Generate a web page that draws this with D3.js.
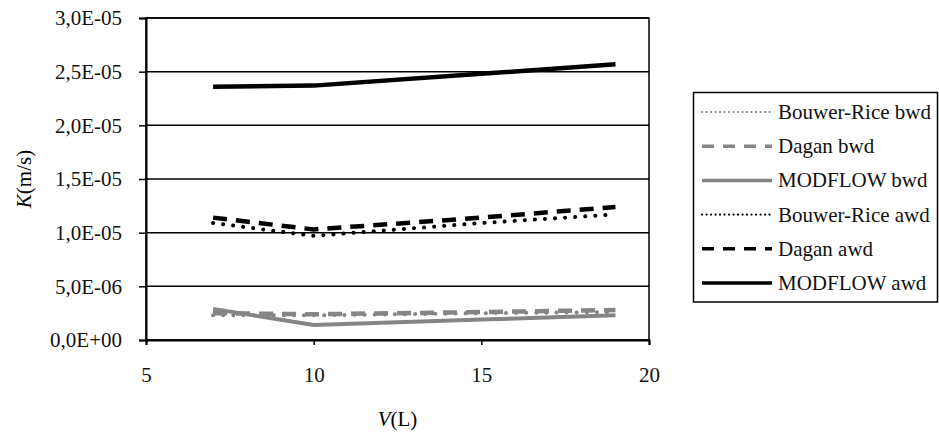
<!DOCTYPE html>
<html>
<head>
<meta charset="utf-8">
<script src="https://cdn.jsdelivr.net/npm/d3@7"></script>
<style>
  body { margin: 0; background: #fff; }
</style>
</head>
<body>
<div id="chart"></div>
<script>
// Data
const volumes = [7, 10, 15, 19];
const seriesNames = ["Bouwer-Rice bwd", "Dagan bwd", "MODFLOW bwd", "Bouwer-Rice awd", "Dagan awd", "MODFLOW awd"];
const brBwd = [2.3e-6, 2.3e-6, 2.5e-6, 2.6e-6];
const daganBwd = [2.5e-6, 2.4e-6, 2.6e-6, 2.8e-6];
const modflowBwd = [2.9e-6, 1.4e-6, 1.9e-6, 2.3e-6];
const brAwd = [1.09e-5, 0.97e-5, 1.09e-5, 1.17e-5];
const daganAwd = [1.14e-5, 1.03e-5, 1.14e-5, 1.24e-5];
const modflowAwd = [2.36e-5, 2.37e-5, 2.48e-5, 2.57e-5];
const yTicks = [0, 5e-6, 1e-5, 1.5e-5, 2e-5, 2.5e-5, 3e-5];
const yTickLabels = ["0,0E+00", "5,0E-06", "1,0E-05", "1,5E-05", "2,0E-05", "2,5E-05", "3,0E-05"];
const xTicks = [5, 10, 15, 20];

const FONT = "'Liberation Serif', 'Times New Roman', serif";
const grey = "#858585";
const styles = [
  { color: grey, width: 4, dash: "0.1,10", cap: "round" },
  { color: grey, width: 4.5, dash: "14,9", cap: "butt" },
  { color: grey, width: 4, dash: null, cap: "butt" },
  { color: "#000", width: 4, dash: "0.1,10", cap: "round" },
  { color: "#000", width: 4.5, dash: "14,9", cap: "butt" },
  { color: "#000", width: 4.5, dash: null, cap: "butt" }
];
const values = [brBwd, daganBwd, modflowBwd, brAwd, daganAwd, modflowAwd];

const width = 939, height = 434;
const margin = { top: 18, right: 290, bottom: 94, left: 146 };

const svg = d3.select("#chart").append("svg")
  .attr("width", width).attr("height", height);

const x = d3.scaleLinear().domain([5, 20]).range([margin.left, width - margin.right]);
const y = d3.scaleLinear().domain([0, 3e-5]).range([height - margin.bottom, margin.top]);

// Grid
svg.append("g").selectAll("line")
  .data(yTicks)
  .join("line")
  .attr("x1", x(5)).attr("x2", x(20))
  .attr("y1", d => y(d)).attr("y2", d => y(d))
  .attr("stroke", "#000").attr("stroke-width", 1.5);

// Plot border
svg.append("rect")
  .attr("x", x(5)).attr("y", y(3e-5))
  .attr("width", x(20) - x(5)).attr("height", y(0) - y(3e-5))
  .attr("fill", "none").attr("stroke", "#000").attr("stroke-width", 1.5);

// Axes
const yAxis = svg.append("g")
  .attr("transform", `translate(${x(5)},0)`)
  .call(d3.axisLeft(y).tickValues(yTicks).tickSize(7).tickPadding(17)
    .tickFormat((d, i) => yTickLabels[i]));
const xAxis = svg.append("g")
  .attr("transform", `translate(0,${y(0)})`)
  .call(d3.axisBottom(x).tickValues(xTicks).tickSize(5).tickPadding(22));
[yAxis, xAxis].forEach(a => {
  a.select(".domain").attr("stroke-width", 2);
  a.selectAll(".tick line").attr("stroke-width", 1.5);
  a.selectAll(".tick text").attr("fill", "#111");
});

// Lines
const line = d3.line().x((d, i) => x(volumes[i])).y(d => y(d));
svg.append("g").selectAll("path")
  .data(values)
  .join("path")
  .attr("d", d => line(d))
  .attr("fill", "none")
  .attr("stroke", (d, i) => styles[i].color)
  .attr("stroke-width", (d, i) => styles[i].width)
  .attr("stroke-dasharray", (d, i) => styles[i].dash)
  .attr("stroke-linecap", (d, i) => styles[i].cap)
  .attr("stroke-linejoin", "round");

// Axis titles
svg.append("text")
  .attr("x", (x(5) + x(20)) / 2).attr("y", 426)
  .attr("text-anchor", "middle")
  .html('<tspan font-style="italic">V</tspan>(L)');
svg.append("text")
  .attr("transform", `translate(31,${(y(0) + y(3e-5)) / 2}) rotate(-90)`)
  .attr("text-anchor", "middle")
  .html('<tspan font-style="italic">K</tspan>(m/s)');

// Legend
const legend = svg.append("g");
legend.append("rect")
  .attr("x", 693.5).attr("y", 92.5).attr("width", 244).attr("height", 209.5)
  .attr("fill", "#fff").attr("stroke", "#000").attr("stroke-width", 1.5);
const item = legend.selectAll("g.item")
  .data(seriesNames)
  .join("g")
  .attr("transform", (d, i) => `translate(0,${112 + i * 34.2})`);
item.append("line")
  .attr("x1", 702).attr("x2", 772)
  .attr("stroke", (d, i) => styles[i].color)
  .attr("stroke-width", (d, i) => styles[i].cap === "round" ? 2.2 : 3.5)
  .attr("stroke-dasharray", (d, i) => {
    const s = styles[i];
    if (!s.dash) return null;
    return s.cap === "round" ? "0.1,4.4" : "12,9";
  })
  .attr("stroke-linecap", (d, i) => styles[i].cap);
item.append("text")
  .attr("x", 778).attr("y", 7)
  .attr("fill", "#111")
  .text(d => d);

// Font for all texts
svg.selectAll("text")
  .style("font-family", FONT)
  .style("font-size", "21px");
</script>
</body>
</html>
